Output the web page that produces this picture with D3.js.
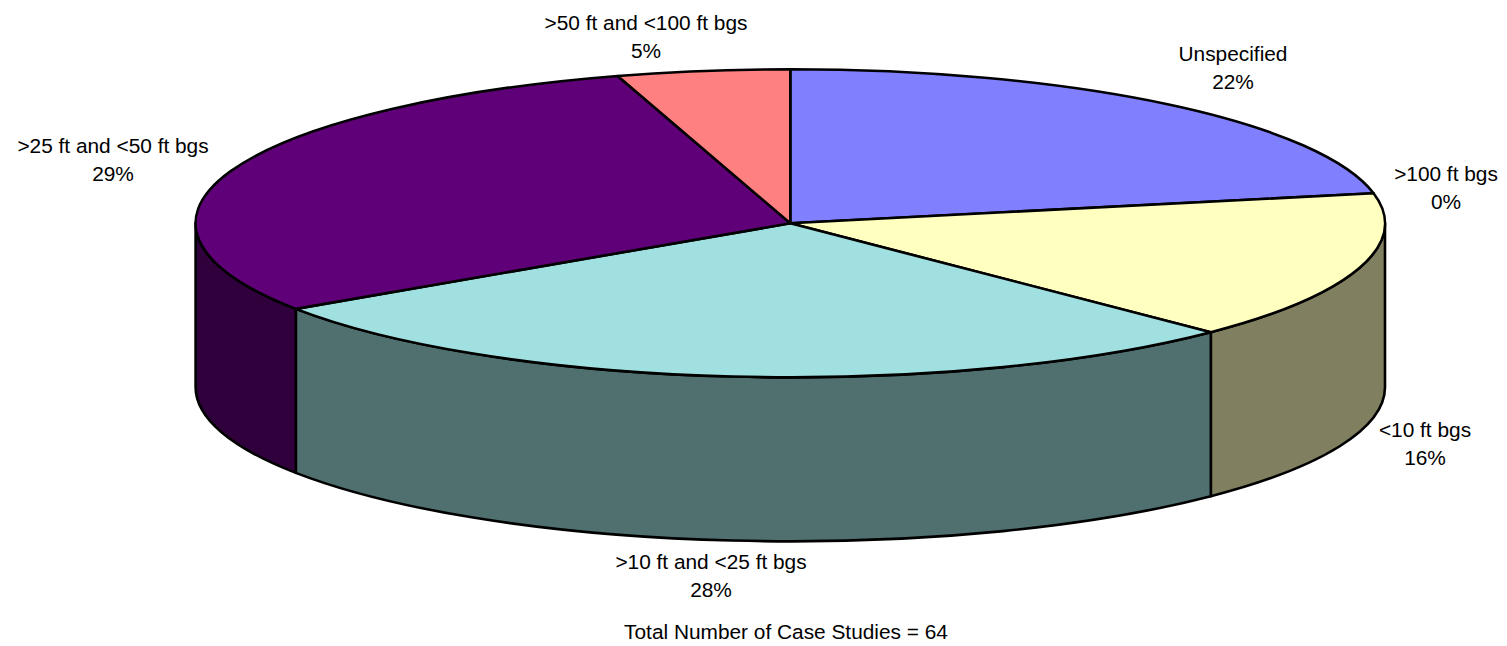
<!DOCTYPE html>
<html><head><meta charset="utf-8">
<script src="https://cdn.jsdelivr.net/npm/d3@7"></script>
<style>html,body{margin:0;padding:0;background:#fff}svg{display:block}text{font-family:"Liberation Sans",Arial,sans-serif;font-size:20.85px;fill:#000}</style>
</head><body><svg id="c" width="1507" height="646"></svg>
<script>
const categories=["Unspecified",">100 ft bgs","<10 ft bgs",">10 ft and <25 ft bgs",">25 ft and <50 ft bgs",">50 ft and <100 ft bgs"];
const caseCounts=[14,0,10,18,19,3];
const percentLabels=["22%","0%","16%","28%","29%","5%"];
const topColors=["#8080FF","#FFFFC0","#FFFFC0","#A0E0E0","#600078","#FF8080"];
const sideColors=["#404080","#808060","#808060","#507070","#30003C","#804040"];
const labelX=[1233,1446,1425,711,113,646];
const labelY=[54,174,430,562,146,23];
const footnote="Total Number of Case Studies = 64";

const W=1507,H=646,cx=790.3,cy=223.3,rx=594.7,ry=154,depth=164;
const svg=d3.select("#c");
const pie=d3.pie().sort(null).value(d=>d)(caseCounts);
const px=d3.scaleLinear().domain([-1,1]).range([cx-rx,cx+rx]);
const py=d3.scaleLinear().domain([-1,1]).range([cy-ry,cy+ry]);
const X=a=>px(Math.sin(a)), Y=(a,o=0)=>py(-Math.cos(a))+o;
const stroke={stroke:"#000","stroke-width":2.6,"stroke-linejoin":"round"};
function sty(s){Object.entries(stroke).forEach(([k,v])=>s.attr(k,v));return s;}

// side walls (visible between 90deg and 270deg)
const wallG=svg.append("g");
pie.forEach((d,i)=>{
  const a0=Math.max(d.startAngle,Math.PI/2),a1=Math.min(d.endAngle,Math.PI*1.5);
  if(a1<=a0) return;
  const large=(a1-a0)>Math.PI?1:0;
  const p=`M${X(a0)},${Y(a0)}A${rx},${ry} 0 ${large} 1 ${X(a1)},${Y(a1)}L${X(a1)},${Y(a1,depth)}A${rx},${ry} 0 ${large} 0 ${X(a0)},${Y(a0,depth)}Z`;
  sty(wallG.append("path").attr("d",p).attr("fill",sideColors[i]));
});
// top faces
const topG=svg.append("g");
pie.forEach((d,i)=>{
  const a0=d.startAngle,a1=d.endAngle;
  if(a1<=a0) return;
  const large=(a1-a0)>Math.PI?1:0;
  const p=`M${cx},${cy}L${X(a0)},${Y(a0)}A${rx},${ry} 0 ${large} 1 ${X(a1)},${Y(a1)}Z`;
  sty(topG.append("path").attr("d",p).attr("fill",topColors[i]));
});
// labels
categories.forEach((c,i)=>{
  const t=svg.append("text").attr("text-anchor","middle");
  t.append("tspan").attr("x",labelX[i]).attr("y",labelY[i]+7).text(c);
  t.append("tspan").attr("x",labelX[i]).attr("y",labelY[i]+35).text(percentLabels[i]);
});
svg.append("text").attr("text-anchor","middle").attr("x",786).attr("y",639).text(footnote);
</script></body></html>
